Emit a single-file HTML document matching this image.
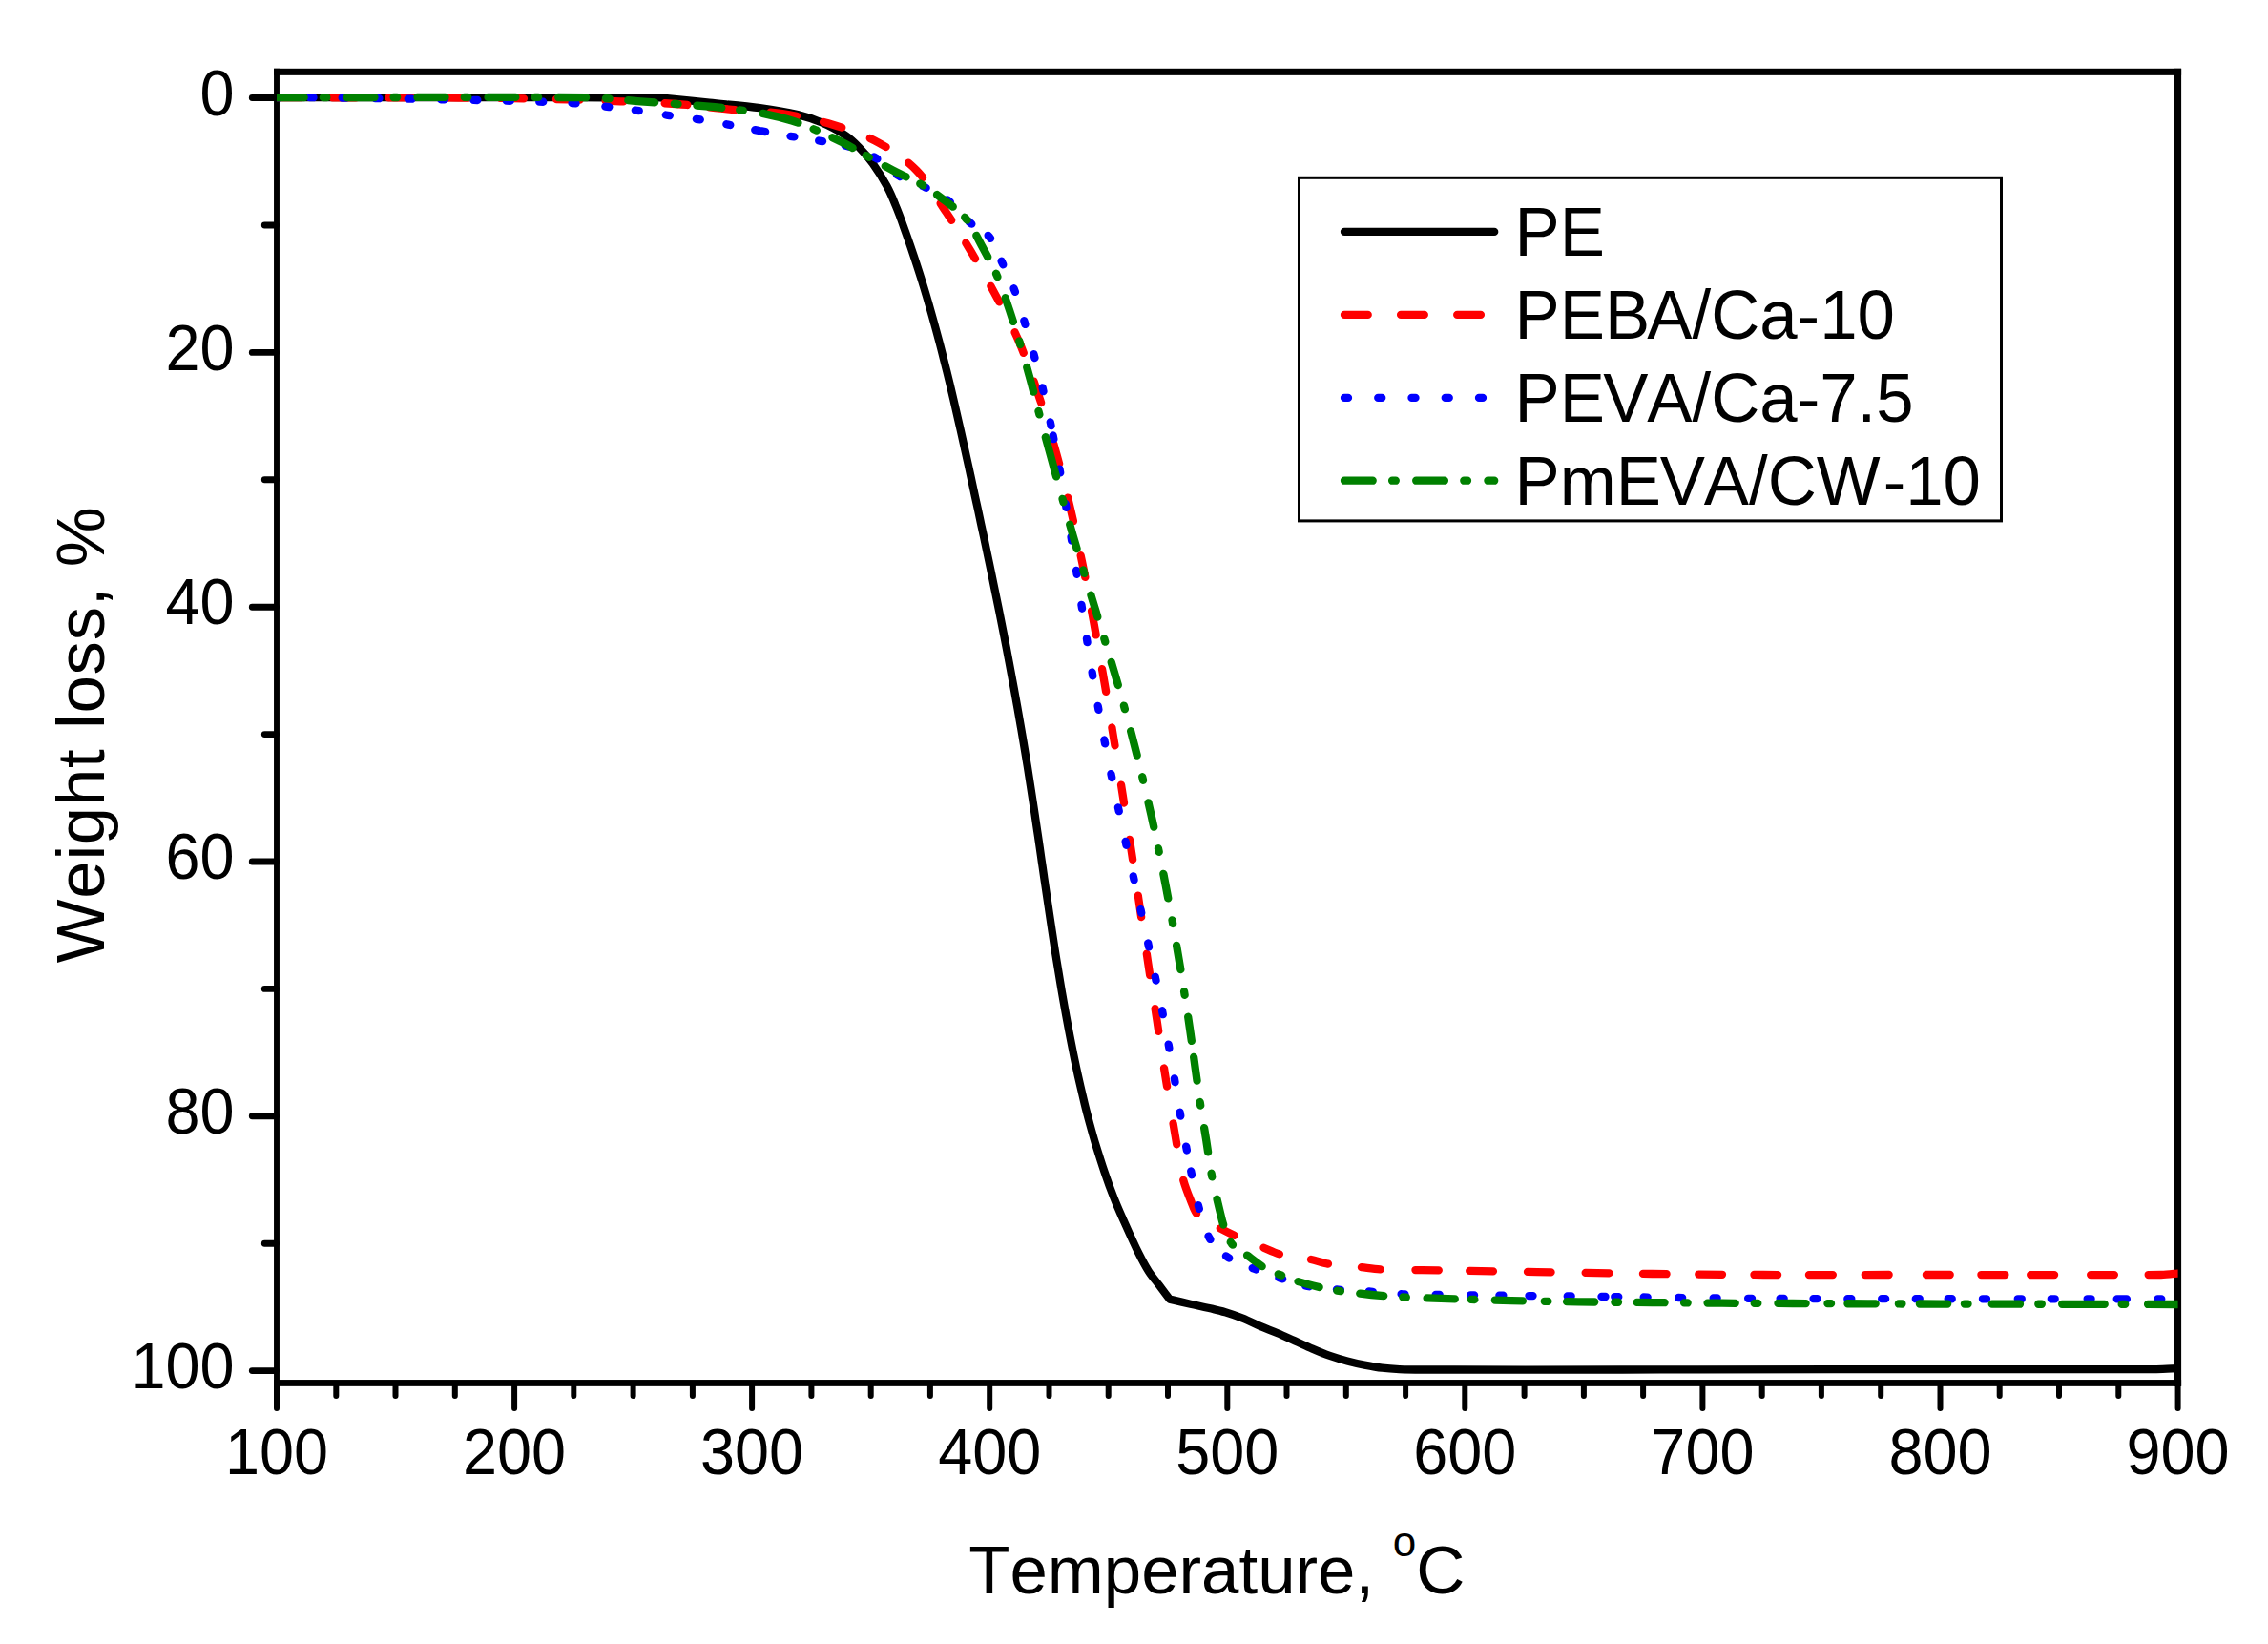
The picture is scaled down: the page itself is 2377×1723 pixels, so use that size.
<!DOCTYPE html>
<html lang="en"><head><meta charset="utf-8"><title>TGA weight loss curves</title>
<style>html,body{margin:0;padding:0;background:#fff;}body{width:2377px;height:1723px;overflow:hidden;}svg{display:block;}text{font-kerning:none;font-family:"Liberation Sans",Arial,Helvetica,sans-serif;fill:#000;}.tk{font-size:64.8px;}.ti{font-size:70.8px;}</style></head><body>
<svg width="2377" height="1723" viewBox="0 0 2377 1723">
<rect width="2377" height="1723" fill="#fff"/>
<g fill="#000">
<rect x="287.05" y="71.8" width="1999.05" height="7.05"/>
<rect x="287.05" y="1446.05" width="1999.05" height="6.8"/>
<rect x="287.05" y="71.8" width="5.9" height="1381.05"/>
<rect x="2279.0" y="71.8" width="7.1" height="1381.05"/>
</g>
<path d="M290.0 1450.5 V1475.9M352.3 1450.5 V1463.1M414.5 1450.5 V1463.1M476.8 1450.5 V1463.1M539.1 1450.5 V1475.9M601.3 1450.5 V1463.1M663.6 1450.5 V1463.1M725.9 1450.5 V1463.1M788.1 1450.5 V1475.9M850.4 1450.5 V1463.1M912.7 1450.5 V1463.1M974.9 1450.5 V1463.1M1037.2 1450.5 V1475.9M1099.5 1450.5 V1463.1M1161.7 1450.5 V1463.1M1224.0 1450.5 V1463.1M1286.3 1450.5 V1475.9M1348.5 1450.5 V1463.1M1410.8 1450.5 V1463.1M1473.1 1450.5 V1463.1M1535.3 1450.5 V1475.9M1597.6 1450.5 V1463.1M1659.9 1450.5 V1463.1M1722.1 1450.5 V1463.1M1784.4 1450.5 V1475.9M1846.7 1450.5 V1463.1M1908.9 1450.5 V1463.1M1971.2 1450.5 V1463.1M2033.5 1450.5 V1475.9M2095.7 1450.5 V1463.1M2158.0 1450.5 V1463.1M2220.3 1450.5 V1463.1M2282.6 1450.5 V1475.9" fill="none" stroke="#000" stroke-width="6" stroke-linecap="round"/>
<path d="M289.5 102.5 H264.3M289.5 236.0 H277.3M289.5 369.4 H264.3M289.5 502.8 H277.3M289.5 636.2 H264.3M289.5 769.6 H277.3M289.5 903.0 H264.3M289.5 1036.4 H277.3M289.5 1169.8 H264.3M289.5 1303.2 H277.3M289.5 1436.6 H264.3" fill="none" stroke="#000" stroke-width="6.9" stroke-linecap="round"/>
<g class="tk" text-anchor="middle">
<text transform="translate(290.0 1544.6) scale(1 1.055)">100</text>
<text transform="translate(539.1 1544.6) scale(1 1.055)">200</text>
<text transform="translate(788.1 1544.6) scale(1 1.055)">300</text>
<text transform="translate(1037.2 1544.6) scale(1 1.055)">400</text>
<text transform="translate(1286.3 1544.6) scale(1 1.055)">500</text>
<text transform="translate(1535.3 1544.6) scale(1 1.055)">600</text>
<text transform="translate(1784.4 1544.6) scale(1 1.055)">700</text>
<text transform="translate(2033.5 1544.6) scale(1 1.055)">800</text>
<text transform="translate(2282.6 1544.6) scale(1 1.055)">900</text>
</g>
<g class="tk" text-anchor="end">
<text transform="translate(245.6 120.8) scale(1 1.055)">0</text>
<text transform="translate(245.6 387.6) scale(1 1.055)">20</text>
<text transform="translate(245.6 654.4) scale(1 1.055)">40</text>
<text transform="translate(245.6 921.2) scale(1 1.055)">60</text>
<text transform="translate(245.6 1188.0) scale(1 1.055)">80</text>
<text transform="translate(245.6 1454.8) scale(1 1.055)">100</text>
</g>
<text class="ti" x="1015.2" y="1669.6">Temperature, <tspan font-size="44px" dy="-39">o</tspan><tspan dy="39">C</tspan></text>
<text class="ti" letter-spacing="0.75" transform="translate(109.3 1009.3) rotate(-90)">Weight loss, %</text>
<clipPath id="c"><rect x="290.0" y="75.5" width="1992.6" height="1374.0"/></clipPath>
<g clip-path="url(#c)" fill="none" stroke-width="8.3" stroke-linecap="round" stroke-linejoin="round">
<path d="M290.0 102.2C341.7 102.2 533.1 102.2 600.0 102.2C630.5 102.2 676.3 102.3 691.6 102.3C700.2 103.2 726.2 105.9 743.5 107.7C761.0 109.5 781.1 111.1 796.5 113.2C809.7 115.0 825.3 117.6 836.0 120.1C844.4 122.1 852.7 124.9 860.7 128.3C868.9 131.9 878.8 137.1 885.4 141.5C891.0 145.2 895.8 149.8 900.5 154.6C905.4 159.5 910.3 165.3 914.5 171.2C919.3 177.9 925.5 187.7 929.5 195.0C933.0 201.4 935.8 208.2 938.5 215.0C941.6 222.3 944.7 230.8 947.5 238.8C950.6 247.3 954.0 257.0 957.0 266.1C960.1 275.2 963.0 284.3 965.9 293.5C968.9 303.2 972.2 314.1 975.1 324.5C978.2 335.2 981.3 346.7 984.2 357.5C987.0 368.0 989.7 379.1 992.3 389.2C994.7 398.9 997.0 408.7 999.3 418.4C1001.7 428.7 1004.3 440.3 1006.8 451.2C1009.4 462.8 1012.3 476.1 1014.9 487.7C1017.3 498.7 1019.8 510.2 1022.0 520.6C1024.2 530.3 1026.3 540.1 1028.3 549.8C1030.4 559.5 1032.5 569.3 1034.5 579.0C1036.7 589.3 1039.3 601.6 1041.3 611.8C1043.3 621.2 1045.2 630.6 1047.1 640.0C1049.3 651.4 1052.4 666.7 1055.0 680.1C1057.5 693.5 1060.1 706.9 1062.5 720.3C1065.1 734.3 1067.9 750.1 1070.3 764.1C1072.6 777.5 1075.0 792.0 1077.0 804.2C1078.8 815.2 1080.5 826.2 1082.1 837.1C1083.8 848.0 1085.4 859.0 1087.0 869.9C1088.7 880.8 1090.6 894.4 1091.8 902.8C1092.7 908.5 1093.5 914.3 1094.3 920.0C1095.6 929.0 1097.9 944.3 1099.7 956.5C1101.6 969.3 1103.8 983.8 1105.8 996.6C1107.8 1008.8 1109.8 1021.5 1111.8 1033.1C1113.6 1044.1 1115.6 1055.0 1117.6 1066.0C1119.6 1076.9 1121.8 1088.5 1123.9 1098.8C1125.8 1108.6 1127.9 1118.3 1130.0 1128.0C1132.2 1137.7 1134.8 1148.9 1136.8 1157.2C1138.5 1164.2 1140.4 1171.3 1142.2 1178.0C1144.0 1184.5 1145.8 1191.0 1147.7 1197.4C1150.3 1205.8 1154.3 1218.7 1157.6 1228.4C1160.7 1237.6 1164.0 1246.8 1167.6 1255.8C1171.2 1264.9 1175.3 1274.1 1179.4 1283.1C1183.6 1292.5 1188.8 1304.1 1192.9 1312.3C1196.3 1319.1 1200.2 1326.6 1203.9 1332.4C1207.2 1337.5 1211.2 1342.1 1214.9 1347.0C1218.5 1351.9 1224.0 1359.2 1225.8 1361.6C1229.5 1362.4 1241.0 1365.2 1247.7 1366.7C1253.8 1368.1 1259.9 1369.3 1266.0 1370.7C1272.1 1372.1 1278.2 1373.5 1284.2 1375.3C1290.3 1377.1 1296.5 1379.3 1302.5 1381.7C1308.6 1384.1 1314.6 1387.3 1320.7 1389.9C1326.7 1392.5 1333.0 1394.6 1339.0 1397.2C1345.1 1399.8 1351.1 1402.7 1357.2 1405.4C1363.3 1408.1 1369.4 1411.0 1375.5 1413.6C1381.5 1416.2 1387.6 1418.8 1393.7 1420.9C1399.7 1423.0 1405.9 1424.8 1412.0 1426.4C1418.0 1428.0 1424.1 1429.4 1430.2 1430.6C1436.3 1431.8 1442.4 1433.0 1448.5 1433.7C1454.5 1434.4 1460.6 1434.8 1466.7 1435.1C1473.6 1435.4 1482.2 1435.5 1490.0 1435.5C1528.9 1435.6 1651.7 1435.5 1700.0 1435.5C1726.7 1435.5 1753.3 1435.3 1780.0 1435.3C1830.0 1435.2 1926.7 1435.1 2000.0 1435.1C2080.0 1435.1 2212.9 1435.2 2260.0 1435.1C2267.4 1435.1 2278.6 1434.3 2282.3 1434.2" stroke="#000"/>
<path d="M290.0 102.2C321.7 102.2 435.0 102.3 480.0 102.5C506.7 102.6 538.3 103.1 560.0 103.5C576.7 103.8 595.0 104.3 610.0 104.8C623.3 105.2 636.7 105.7 650.0 106.3C666.4 107.0 689.1 107.6 708.6 109.0C728.0 110.4 748.2 113.1 766.8 114.8C784.5 116.4 802.4 116.6 820.0 119.2C837.7 121.9 856.2 125.7 872.9 130.7C889.2 135.6 905.8 141.3 920.4 149.3C934.9 157.2 948.9 166.7 960.5 178.5C972.3 190.5 981.6 207.4 991.0 221.4C1000.0 234.9 1008.7 248.6 1017.0 262.5C1025.7 277.1 1034.9 293.3 1043.3 309.0C1051.8 324.9 1060.8 341.2 1068.0 358.0C1075.8 376.5 1083.9 400.4 1090.5 420.2C1096.7 438.9 1102.3 457.8 1107.6 476.8C1112.9 496.0 1118.0 516.7 1122.4 535.2C1126.6 552.8 1131.4 576.2 1133.9 588.1C1135.2 594.2 1136.4 600.3 1137.6 606.4C1139.7 617.5 1143.8 638.4 1146.7 654.5C1150.0 672.3 1153.7 693.5 1157.1 713.0C1160.5 732.5 1163.7 752.2 1166.9 771.8C1170.2 791.6 1173.4 812.1 1176.5 832.0C1179.6 851.6 1182.8 872.6 1185.6 890.9C1188.2 907.9 1190.8 925.0 1193.3 942.0C1196.3 961.9 1200.2 989.2 1203.4 1010.3C1206.3 1029.8 1209.4 1049.2 1212.4 1068.7C1215.4 1088.5 1218.3 1109.0 1221.5 1128.9C1224.7 1148.7 1228.4 1170.7 1231.4 1188.2C1234.0 1203.4 1236.8 1222.3 1239.5 1233.9C1241.4 1242.0 1245.0 1250.9 1247.7 1257.6C1250.0 1263.3 1251.6 1269.7 1255.9 1274.0C1260.6 1278.7 1269.3 1282.2 1276.0 1285.9C1282.6 1289.5 1289.3 1292.8 1296.1 1295.9C1303.7 1299.3 1313.7 1303.3 1321.6 1306.5C1328.9 1309.4 1335.9 1313.1 1343.5 1315.1C1351.7 1317.2 1362.4 1317.6 1370.9 1319.3C1378.9 1320.9 1386.6 1323.8 1394.6 1325.1C1403.4 1326.5 1414.7 1326.9 1423.8 1327.8C1432.3 1328.7 1440.8 1330.2 1449.4 1330.6C1460.4 1331.1 1476.5 1330.9 1490.0 1331.1C1516.9 1331.5 1570.7 1332.4 1611.0 1333.1C1651.2 1333.7 1692.1 1334.5 1731.6 1335.0C1770.4 1335.5 1809.2 1335.9 1848.0 1336.0C1892.7 1336.2 1949.3 1336.0 2000.0 1336.0C2069.5 1336.0 2217.9 1336.2 2265.0 1336.0C2270.8 1336.0 2279.4 1334.8 2282.3 1334.6" stroke="#f00" stroke-dasharray="24.5 34.1 24.5 34.1 24.5 34.1 24.5 34.1 24.5 34.1 24.5 27.2 18.9 43.0 23.9 23.2 27.2 37.1 27.8 28.6 20.2 31.6 19.1 28.8 21.5 32.7 21.3 28.2 19.3 32.8 18.9 35.7 23.7 31.4 23.8 45.3 21.5 36.4 25.6 36.7 23.2 36.0 25.7 36.1 24.1 38.2 19.2 41.6 19.3 38.6 21.4 38.2 22.7 38.8 22.9 35.4 24.0 39.0 19.5 39.2 22.4 38.1 37.7 29.3 16.6 33.5 17.7 33.6 18.5 35.2 19.9 36.6 24.7 32.3 24.7 35.9 24.7 36.1 24.7 35.5 24.7 33.7 24.7 33.5 24.7 33.0 24.7 33.9 24.7 39.6 24.7 32.9 24.7 26.8 24.7 38.2 24.7 35.7 41.1 5000.0"/>
<path d="M290.0 102.2C296.7 102.2 316.7 102.1 330.0 102.2C353.5 102.5 402.3 103.2 430.8 103.7C454.2 104.1 477.8 104.5 501.0 105.0C524.0 105.5 552.9 106.2 570.0 106.8C581.2 107.2 592.5 107.6 603.5 108.4C614.5 109.2 625.6 110.7 636.3 111.9C646.8 113.1 657.3 114.3 667.8 115.8C678.4 117.3 689.1 119.2 699.8 120.8C710.5 122.3 721.2 123.5 731.8 125.1C742.3 126.7 752.8 128.7 763.3 130.6C774.0 132.6 785.0 135.0 795.9 137.0C807.1 139.1 819.6 141.3 830.3 143.1C840.2 144.8 850.5 146.2 860.0 147.8C869.2 149.4 878.6 150.3 887.5 153.0C897.1 155.9 908.6 160.2 917.6 165.4C926.3 170.4 932.9 178.9 941.4 184.0C949.9 189.1 959.9 191.5 968.7 195.9C977.5 200.3 986.6 204.5 994.3 210.5C1002.3 216.7 1009.6 227.0 1016.7 233.3C1022.9 238.8 1031.6 241.7 1036.8 248.2C1042.4 255.2 1046.0 266.2 1050.3 275.3C1054.7 284.6 1059.5 294.1 1063.2 303.9C1067.1 314.3 1070.4 326.5 1073.8 337.8C1077.2 349.3 1080.7 361.2 1083.9 372.9C1087.1 384.6 1090.2 396.3 1093.0 408.0C1095.9 419.8 1099.2 435.5 1101.1 443.9C1102.1 448.7 1103.1 453.4 1104.0 458.2C1105.6 466.4 1108.6 481.5 1110.8 493.2C1112.9 505.1 1115.1 517.8 1117.1 529.7C1119.1 541.3 1121.0 552.8 1122.8 564.4C1124.6 576.0 1126.5 587.9 1128.3 599.6C1130.1 611.5 1131.9 623.6 1133.7 635.5C1135.5 647.3 1137.4 659.2 1139.2 671.0C1141.1 682.7 1142.9 694.5 1144.9 706.2C1146.9 718.0 1148.9 729.8 1151.0 741.6C1153.1 753.4 1155.4 765.3 1157.7 777.2C1160.0 789.1 1162.4 801.0 1164.8 812.8C1167.3 824.5 1169.8 836.3 1172.3 848.0C1174.8 859.8 1177.4 871.7 1180.0 883.6C1182.7 895.6 1185.5 908.1 1188.1 920.0C1190.6 931.6 1193.2 943.1 1195.8 954.7C1198.4 966.4 1201.0 978.5 1203.6 990.3C1206.1 1002.0 1208.6 1013.8 1211.1 1025.5C1213.6 1037.3 1216.1 1049.3 1218.4 1061.1C1220.7 1072.9 1222.9 1084.7 1225.0 1096.5C1227.1 1108.3 1229.2 1120.3 1231.2 1132.2C1233.2 1144.3 1235.1 1157.1 1237.2 1169.0C1239.2 1180.5 1241.6 1193.4 1243.5 1203.4C1245.1 1212.0 1246.8 1220.7 1248.6 1229.3C1250.7 1239.5 1253.2 1253.6 1256.3 1264.9C1259.3 1275.9 1262.4 1288.5 1267.4 1297.2C1272.0 1305.2 1278.8 1312.1 1286.4 1317.4C1294.2 1322.8 1305.0 1326.0 1314.3 1329.7C1323.4 1333.4 1332.8 1336.7 1342.1 1339.7C1351.3 1342.7 1360.5 1346.0 1370.0 1347.9C1380.1 1349.9 1391.8 1350.7 1402.8 1351.6C1413.9 1352.5 1425.3 1352.8 1436.6 1353.6C1447.9 1354.4 1459.1 1356.1 1470.4 1356.3C1512.0 1357.2 1625.7 1358.2 1686.0 1359.0C1734.7 1359.6 1783.3 1360.5 1832.0 1360.8C1884.3 1361.2 1944.0 1361.1 2000.0 1361.2C2061.3 1361.3 2152.9 1361.3 2200.0 1361.3C2227.4 1361.4 2268.6 1361.4 2282.3 1361.4" stroke="#00f" stroke-dasharray="4.0 30.4 4.0 30.4 4.0 30.4 4.0 30.4 4.0 30.4 4.0 30.4 4.0 30.4 4.0 30.4 4.0 30.4 4.0 31.0 4.0 27.7 4.0 28.4 4.0 28.3 4.0 28.0 4.0 26.5 4.0 3.1 4.0 26.6 4.0 26.1 4.0 24.0 4.0 28.6 4.0 26.3 4.0 25.8 4.0 25.5 4.0 28.0 4.0 21.1 4.0 26.4 4.0 27.4 4.0 31.5 4.0 32.5 4.0 32.3 4.0 32.8 4.0 10.6 4.0 31.6 4.0 33.1 4.0 31.2 4.0 31.6 4.0 32.3 4.0 31.9 4.0 31.7 4.0 31.9 4.0 32.2 4.0 32.3 4.0 32.0 4.0 32.4 4.0 33.3 4.0 31.5 4.0 32.4 4.0 32.0 4.0 32.3 4.0 32.0 4.0 32.2 4.0 31.8 4.0 32.5 4.0 22.4 4.0 32.4 4.0 30.2 4.0 24.0 4.0 26.6 4.0 25.5 4.0 25.1 4.0 29.0 4.0 29.9 4.0 29.9 4.0 32.2 4.0 32.4 4.0 26.2 4.0 27.1 4.0 36.2 4.0 31.7 4.0 9.9 4.0 26.4 4.0 32.5 4.0 32.5 4.0 32.5 4.0 29.6 4.0 30.9 4.0 31.6 4.0 31.7 4.0 32.1 4.0 29.8 4.0 32.2 4.0 32.6 4.0 30.9 4.0 34.0 4.0 27.2 10.1 32.3 4.0 5000.0"/>
<path d="M290.0 102.2C344.3 102.2 552.4 101.5 616.0 102.2C634.5 102.4 653.0 104.9 671.5 106.3C692.7 107.9 725.4 110.0 743.0 111.6C754.4 112.6 767.8 114.4 777.0 115.6C784.2 116.5 791.4 117.2 798.5 118.7C807.3 120.5 820.7 123.6 830.0 126.5C838.3 129.1 846.3 132.6 854.3 136.0C863.1 139.8 873.8 144.6 883.0 149.3C892.0 153.9 900.6 159.1 909.4 164.0C918.7 169.1 929.2 175.1 938.6 180.0C947.6 184.7 957.3 188.4 966.0 193.5C974.6 198.5 982.9 204.5 990.6 210.5C998.2 216.4 1006.4 221.8 1012.5 229.3C1019.0 237.3 1024.0 248.5 1029.3 258.3C1034.7 268.2 1040.3 278.2 1044.8 288.6C1049.6 299.7 1053.9 312.9 1058.0 325.0C1062.0 336.9 1065.7 349.0 1069.3 361.0C1072.9 373.1 1076.4 385.4 1079.7 397.4C1083.0 409.2 1085.8 421.2 1089.0 433.0C1092.6 446.7 1097.4 464.2 1101.6 479.5C1105.7 494.6 1110.2 510.9 1114.1 524.8C1117.7 537.5 1121.4 550.4 1125.0 562.9C1128.6 575.2 1132.3 587.4 1136.0 599.6C1139.7 611.7 1144.8 628.2 1147.1 635.9C1148.1 639.1 1149.1 642.3 1150.0 645.5C1151.9 651.4 1155.3 662.8 1157.9 671.4C1161.0 681.6 1165.0 694.9 1168.5 706.6C1171.9 718.3 1175.3 730.0 1178.5 741.8C1181.9 754.0 1185.4 767.2 1188.6 779.6C1191.8 791.8 1194.8 804.0 1197.7 816.3C1200.7 828.8 1203.8 842.1 1206.6 854.6C1209.3 866.8 1211.9 879.0 1214.4 891.3C1217.0 903.7 1219.5 916.5 1221.9 929.0C1224.3 941.5 1226.6 954.0 1228.9 966.5C1231.1 979.0 1233.2 991.4 1235.3 1003.9C1237.4 1016.4 1239.5 1028.9 1241.4 1041.4C1243.4 1053.9 1245.3 1066.3 1247.1 1078.8C1249.0 1092.0 1251.1 1107.6 1252.9 1120.7C1254.6 1132.9 1256.2 1145.1 1258.0 1157.2C1259.9 1169.7 1262.3 1183.0 1264.3 1195.5C1266.2 1207.7 1267.7 1219.9 1270.0 1232.0C1272.4 1244.5 1276.6 1261.3 1278.8 1270.4C1280.1 1275.9 1281.3 1281.5 1283.3 1286.8C1285.3 1292.3 1287.3 1299.0 1291.0 1303.6C1294.7 1308.2 1300.4 1310.7 1305.2 1314.2C1310.9 1318.4 1319.2 1325.2 1325.3 1328.8C1330.4 1331.9 1336.2 1333.8 1341.7 1336.1C1347.1 1338.3 1352.5 1340.7 1358.1 1342.4C1365.4 1344.7 1378.0 1347.9 1385.5 1349.7C1391.4 1351.1 1397.4 1352.2 1403.4 1353.0C1412.1 1354.2 1426.1 1355.9 1437.5 1357.0C1449.0 1358.1 1460.7 1359.1 1472.4 1359.6C1496.8 1360.6 1553.7 1362.3 1584.0 1363.1C1607.3 1363.7 1630.7 1364.0 1654.0 1364.3C1678.6 1364.6 1706.4 1364.9 1731.6 1365.1C1756.1 1365.3 1780.5 1365.6 1805.0 1365.7C1829.6 1365.9 1854.3 1365.9 1879.0 1366.0C1911.5 1366.1 1959.7 1366.4 2000.0 1366.5C2047.0 1366.6 2114.1 1366.7 2161.2 1366.8C2201.6 1366.9 2262.1 1367.0 2282.3 1367.0" stroke="#008000" stroke-dasharray="28.8 20.2 3.6 21.2 28.8 20.2 3.6 21.2 28.8 20.2 3.6 21.2 28.8 20.2 3.6 21.2 28.8 21.0 3.7 19.7 28.0 20.6 3.7 19.9 26.2 18.9 3.7 21.0 38.2 17.4 3.7 18.0 23.9 16.2 3.7 19.1 24.7 16.3 3.7 17.4 21.0 16.7 3.7 18.9 25.4 19.6 3.7 23.5 26.1 21.5 3.7 24.8 26.7 21.0 3.7 24.5 42.8 24.1 3.7 24.3 26.5 23.4 3.7 23.5 24.2 23.6 3.7 22.1 25.1 22.5 3.7 23.9 26.2 23.2 3.7 24.1 26.1 23.0 3.7 23.5 26.0 23.3 3.7 23.2 25.7 23.3 3.7 23.2 25.6 16.8 25.1 22.6 3.7 23.8 25.6 22.6 3.7 23.8 27.8 19.7 3.7 18.9 19.0 19.1 3.7 18.7 22.5 19.3 3.7 20.3 25.2 20.1 3.7 21.6 29.2 16.8 3.6 21.5 29.2 22.9 3.6 19.7 29.2 21.1 3.6 19.4 29.2 20.5 3.6 20.9 29.2 20.0 3.6 21.1 29.2 23.1 3.6 17.1 29.2 24.0 3.6 18.8 29.2 17.9 3.6 24.9 29.2 19.3 3.6 21.4 44.5 17.9 3.6 23.7 60.0 5000.0"/>
</g>
<rect x="1361.5" y="186.3" width="736" height="359.6" fill="#fff" stroke="#000" stroke-width="3"/>
<g fill="none" stroke-width="8.3" stroke-linecap="round">
<path d="M1409 242.9H1566.2" stroke="#000"/>
<path d="M1409 329.9H1566.2" stroke="#f00" stroke-dasharray="24.7 34.4"/>
<path d="M1409 416.9H1566.2" stroke="#00f" stroke-dasharray="4 31.25"/>
<path d="M1409 503.7H1566.2" stroke="#008000" stroke-dasharray="29.7 20.4 3.7 21.4"/>
</g>
<g class="ti">
<text transform="translate(1587.5 268.0) scale(1 1.02)">PE</text>
<text transform="translate(1587.5 355.0) scale(1 1.02)">PEB<tspan dx="-2.9">A/Ca-10</tspan></text>
<text transform="translate(1587.5 442.0) scale(1 1.02)">PE<tspan dx="-1.8">V</tspan><tspan dx="-1.1">A/Ca-7.5</tspan></text>
<text transform="translate(1587.5 529.0) scale(1 1.02)">PmE<tspan dx="-1.1">V</tspan><tspan dx="-1.2">A/CW</tspan><tspan dx="3">-10</tspan></text>
</g>
</svg></body></html>
